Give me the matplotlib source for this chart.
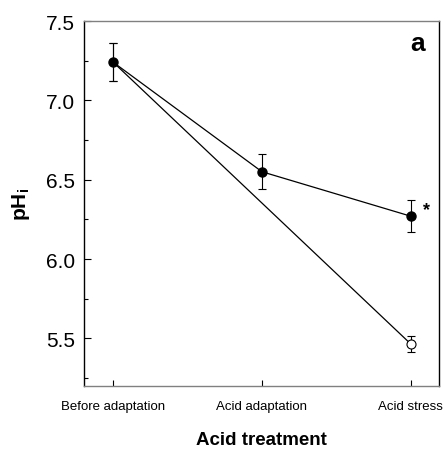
import matplotlib.pyplot as plt
from matplotlib import font_manager

# data
treatments = ['Before adaptation', 'Acid adaptation', 'Acid stress']
adapted_ph = [7.24, 6.55, 6.27]
adapted_err = [0.12, 0.11, 0.10]
direct_ph = [7.24, 5.465]
direct_err = [0.12, 0.05]

names = {f.name for f in font_manager.fontManager.ttflist}
narrow = 'Liberation Sans Narrow' if 'Liberation Sans Narrow' in names else 'Liberation Sans'

plt.rcParams['font.family'] = ['Liberation Sans', 'DejaVu Sans']
plt.rcParams['mathtext.fontset'] = 'custom'
plt.rcParams['mathtext.rm'] = 'Liberation Sans'
plt.rcParams['mathtext.bf'] = 'Liberation Sans:bold'

fig = plt.figure(figsize=(4.45, 4.52), dpi=100)
ax = fig.add_axes([83.5 / 445, 1 - 387 / 452, (439 - 83.5) / 445, (387 - 22) / 452])

x = list(range(len(treatments)))
# line straight from before adaptation to acid stress (open symbol)
ax.plot([x[0], x[2]], direct_ph, color='black', lw=0.9, zorder=2)
ax.errorbar([x[2]], [direct_ph[1]], yerr=[direct_err[1]], fmt='o', mfc='white',
            mec='black', mew=0.8, ms=6.5, ecolor='black', elinewidth=0.8,
            capsize=3, capthick=0.8, zorder=3)
ax.errorbar([x[0]], [direct_ph[0]], yerr=[direct_err[0]], fmt='none',
            ecolor='black', elinewidth=0.8, capsize=3, capthick=0.8, zorder=3)
# line through acid adaptation (filled symbol)
ax.errorbar(x, adapted_ph, yerr=adapted_err, fmt='-o', color='black', lw=0.9,
            ms=6.5, ecolor='black', elinewidth=0.8, capsize=3, capthick=0.8, zorder=4)

ax.text(x[2] + 0.08, adapted_ph[2] + 0.04, '*', fontsize=13, fontweight='bold',
        ha='left', va='center')
ax.text(0.96, 0.94, 'a', transform=ax.transAxes, fontsize=19, fontweight='bold',
        ha='right', va='center')

ax.set_xlim(-0.2, 2.19)
ax.set_ylim(5.2, 7.5)
ax.set_xticks(x)
ax.set_xticklabels(treatments, fontsize=11 if narrow != 'Liberation Sans' else 9.5,
                   family=narrow)
ax.set_yticks([5.5, 6.0, 6.5, 7.0, 7.5])
ax.set_yticks([5.25, 5.75, 6.25, 6.75, 7.25], minor=True)
ax.tick_params(axis='y', which='major', direction='in', length=5, width=0.8,
               labelsize=15, pad=6)
ax.tick_params(axis='y', which='minor', direction='in', length=3, width=0.8)
ax.tick_params(axis='x', direction='in', length=4, width=0.8, pad=10)

for side in ['left', 'right']:
    ax.spines[side].set_linewidth(1.0)
    ax.spines[side].set_color('black')
for side in ['top', 'bottom']:
    ax.spines[side].set_linewidth(1.0)
    ax.spines[side].set_color('#808080')

ax.set_ylabel(r'$\mathbf{pH_i}$', fontsize=15, labelpad=10)
ax.set_xlabel('Acid treatment', fontsize=13.5, fontweight='bold', labelpad=14)

fig.savefig('out.png', dpi=100)
